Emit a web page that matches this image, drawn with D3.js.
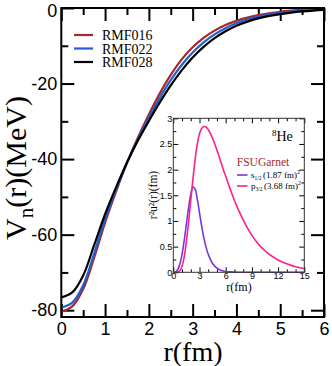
<!DOCTYPE html>
<html>
<head>
<meta charset="utf-8">
<script src="https://cdn.jsdelivr.net/npm/d3@7"></script>
<style>
  body { margin: 0; background: #fff; }
  svg { display: block; }
  .tick text { fill: #000; }
</style>
</head>
<body>
<svg id="chart" width="332" height="366"></svg>
<script>
// main panel: neutron potential V_n(r)
const rGrid = [0, 0.25, 0.5, 0.75, 1, 1.25, 1.5, 1.75, 2, 2.25, 2.5, 2.75, 3,
  3.25, 3.5, 3.75, 4, 4.25, 4.5, 4.75, 5, 5.25, 5.5, 5.75, 6];
const vRMF016 = [-80.4, -79.0, -74.4, -66.1, -56.8, -48.6, -41.0, -34.3, -28.2, -22.6, -17.7, -13.6, -10.4,
  -7.9, -6.0, -4.5, -3.4, -2.55, -1.9, -1.4, -1.0, -0.72, -0.5, -0.35, -0.24];
const vRMF022 = [-79.3, -78.0, -73.4, -65.0, -55.9, -48.1, -41.0, -34.8, -29.1, -23.8, -19.1, -15.1, -11.8,
  -9.1, -7.0, -5.35, -4.05, -3.05, -2.3, -1.7, -1.25, -0.92, -0.67, -0.48, -0.35];
const vRMF028 = [-76.6, -75.3, -70.8, -62.8, -54.6, -47.5, -40.9, -35.1, -29.9, -25.0, -20.5, -16.5, -13.1,
  -10.3, -8.0, -6.15, -4.7, -3.6, -2.75, -2.1, -1.6, -1.2, -0.9, -0.67, -0.5];
const mainNames = ['RMF016', 'RMF022', 'RMF028'];
const mainColors = ['#a3292b', '#1f5fd0', '#000000'];

// inset: r^2 u^2(r) for 8He, FSUGarnet
const rInset = [0, 0.25, 0.5, 0.75, 1, 1.25, 1.5, 1.75, 2, 2.25, 2.5, 2.75, 3,
  3.25, 3.5, 3.75, 4, 4.25, 4.5, 4.75, 5, 5.25, 5.5, 5.75, 6,
  6.5, 7, 7.5, 8, 8.5, 9, 9.5, 10, 10.5, 11, 11.5, 12, 12.5, 13, 13.5, 14, 14.5, 15];
const s12 = [0, 0.005, 0.05, 0.16, 0.35, 0.62, 0.94, 1.26, 1.52, 1.66, 1.62, 1.42, 1.16,
  0.9, 0.67, 0.49, 0.35, 0.25, 0.17, 0.12, 0.08, 0.055, 0.037, 0.025, 0.017,
  0.008, 0.004, 0.002, 0.001, 0, 0, 0, 0, 0, 0, 0, 0, 0, 0, 0, 0, 0, 0];
const p32 = [0, 0, 0.005, 0.03, 0.12, 0.3, 0.6, 0.98, 1.4, 1.82, 2.2, 2.5, 2.7,
  2.8, 2.84, 2.83, 2.78, 2.7, 2.61, 2.5, 2.38, 2.25, 2.12, 1.99, 1.87,
  1.63, 1.4, 1.2, 1.02, 0.86, 0.72, 0.6, 0.5, 0.42, 0.35, 0.29, 0.24, 0.2, 0.165, 0.135, 0.11, 0.09, 0.075];
const insetColors = ['#7b35d8', '#ff1f8e'];

const mainXTicks = [0, 1, 2, 3, 4, 5, 6];
const mainXMinor = [0.5, 1.5, 2.5, 3.5, 4.5, 5.5];
const mainYTicks = [0, -20, -40, -60, -80];
const mainYMinor = [-10, -30, -50, -70];
const insetXTicks = [0, 3, 6, 9, 12, 15];
const insetXMinor = [1, 2, 4, 5, 7, 8, 10, 11, 13, 14];
const insetYTicks = [0, 0.5, 1, 1.5, 2, 2.5, 3];
const insetYMinor = [0.25, 0.75, 1.25, 1.75, 2.25, 2.75];

const sans = "'Liberation Sans', Arial, sans-serif";
const serif = "'Liberation Serif', 'Times New Roman', serif";
const plain = d => String(d);

const svg = d3.select('#chart');

const x = d3.scaleLinear().domain([0, 6]).range([61.3, 324]);
const y = d3.scaleLinear().domain([-81.8, 0]).range([317, 8]);

// draw an axis with no domain line, ticks pointing inward
function axis(g, ax, width) {
  g.call(ax);
  g.select('.domain').remove();
  g.selectAll('.tick line').attr('stroke', '#000').attr('stroke-width', width);
  return g;
}

const main = svg.append('g');
const [x0, x1] = x.range();
const [yB, yT] = y.range();

axis(main.append('g').attr('transform', `translate(0,${yB})`),
  d3.axisBottom(x).tickValues(mainXTicks).tickSize(-13).tickPadding(5).tickFormat(plain), 2);
axis(main.append('g').attr('transform', `translate(0,${yB})`),
  d3.axisBottom(x).tickValues(mainXMinor).tickSize(-7).tickFormat(''), 2);
axis(main.append('g').attr('transform', `translate(0,${yT})`),
  d3.axisTop(x).tickValues(mainXTicks).tickSize(-13).tickFormat(''), 2);
axis(main.append('g').attr('transform', `translate(0,${yT})`),
  d3.axisTop(x).tickValues(mainXMinor).tickSize(-7).tickFormat(''), 2);
const leftAxis = axis(main.append('g').attr('transform', `translate(${x0},0)`),
  d3.axisLeft(y).tickValues(mainYTicks).tickSize(-13).tickPadding(4).tickFormat(plain), 2);
axis(main.append('g').attr('transform', `translate(${x0},0)`),
  d3.axisLeft(y).tickValues(mainYMinor).tickSize(-7).tickFormat(''), 2);
axis(main.append('g').attr('transform', `translate(${x1},0)`),
  d3.axisRight(y).tickValues(mainYTicks).tickSize(-13).tickFormat(''), 2);
axis(main.append('g').attr('transform', `translate(${x1},0)`),
  d3.axisRight(y).tickValues(mainYMinor).tickSize(-7).tickFormat(''), 2);

main.selectAll('.tick text')
  .attr('font-family', sans)
  .attr('font-size', 18);
// the top "0" sits a little below its tick, as in the original
leftAxis.selectAll('.tick text').filter(d => d === 0)
  .attr('dy', '0.45em');

// curves
const mainSeries = [vRMF016, vRMF022, vRMF028];
const lineMain = d3.line()
  .x((d, i) => x(rGrid[i]))
  .y(d => y(d))
  .curve(d3.curveCatmullRom);

main.selectAll('path.pot')
  .data(mainSeries)
  .enter().append('path')
  .attr('class', 'pot')
  .attr('fill', 'none')
  .attr('stroke', (d, i) => mainColors[i])
  .attr('stroke-width', 2.2)
  .attr('d', lineMain);

main.append('rect')
  .attr('x', x0).attr('y', yT)
  .attr('width', x1 - x0).attr('height', yB - yT)
  .attr('fill', 'none').attr('stroke', '#000').attr('stroke-width', 2);

// legend
const leg = main.append('g');
mainNames.forEach((name, i) => {
  const ly = 35 + i * 13.5;
  leg.append('line')
    .attr('x1', 74).attr('x2', 93).attr('y1', ly).attr('y2', ly)
    .attr('stroke', mainColors[i]).attr('stroke-width', 2.2);
  leg.append('text')
    .attr('x', 102).attr('y', ly + 5)
    .attr('font-family', serif).attr('font-size', 14)
    .text(name);
});

// axis titles
svg.append('text')
  .attr('x', 193).attr('y', 361)
  .attr('text-anchor', 'middle')
  .attr('font-family', serif).attr('font-size', 28)
  .text('r(fm)');

const yt = svg.append('text')
  .attr('transform', 'translate(26,168) rotate(-90)')
  .attr('text-anchor', 'middle')
  .attr('font-family', serif).attr('font-size', 30);
yt.append('tspan').text('V');
yt.append('tspan').attr('font-size', 21).attr('dy', 7).text('n');
yt.append('tspan').attr('dy', -7).text('(r)(MeV)');

// inset
const xi = d3.scaleLinear().domain([0, 15]).range([173.3, 304.3]);
const yi = d3.scaleLinear().domain([0, 3]).range([272.3, 118.3]);
const [xi0, xi1] = xi.range();
const [yiB, yiT] = yi.range();
const inset = svg.append('g');

inset.append('rect')
  .attr('x', xi0).attr('y', yiT)
  .attr('width', xi1 - xi0).attr('height', yiB - yiT)
  .attr('fill', '#fff');

axis(inset.append('g').attr('transform', `translate(0,${yiB})`),
  d3.axisBottom(xi).tickValues(insetXTicks).tickSize(-5).tickPadding(0.5).tickFormat(plain), 1);
axis(inset.append('g').attr('transform', `translate(0,${yiB})`),
  d3.axisBottom(xi).tickValues(insetXMinor).tickSize(-3).tickFormat(''), 1);
axis(inset.append('g').attr('transform', `translate(0,${yiT})`),
  d3.axisTop(xi).tickValues(insetXTicks).tickSize(-5).tickFormat(''), 1);
axis(inset.append('g').attr('transform', `translate(0,${yiT})`),
  d3.axisTop(xi).tickValues(insetXMinor).tickSize(-3).tickFormat(''), 1);
axis(inset.append('g').attr('transform', `translate(${xi0},0)`),
  d3.axisLeft(yi).tickValues(insetYTicks).tickSize(-5).tickPadding(1).tickFormat(plain), 1);
axis(inset.append('g').attr('transform', `translate(${xi0},0)`),
  d3.axisLeft(yi).tickValues(insetYMinor).tickSize(-3).tickFormat(''), 1);
axis(inset.append('g').attr('transform', `translate(${xi1},0)`),
  d3.axisRight(yi).tickValues(insetYTicks).tickSize(-5).tickFormat(''), 1);
axis(inset.append('g').attr('transform', `translate(${xi1},0)`),
  d3.axisRight(yi).tickValues(insetYMinor).tickSize(-3).tickFormat(''), 1);

inset.selectAll('.tick text')
  .attr('font-family', sans)
  .attr('font-size', 9)
  .attr('fill', '#222');

const lineInset = d3.line()
  .x((d, i) => xi(rInset[i]))
  .y(d => yi(d))
  .curve(d3.curveCatmullRom);

inset.selectAll('path.wf')
  .data([s12, p32])
  .enter().append('path')
  .attr('class', 'wf')
  .attr('fill', 'none')
  .attr('stroke', (d, i) => insetColors[i])
  .attr('stroke-width', 1.6)
  .attr('d', lineInset);

inset.append('rect')
  .attr('x', xi0).attr('y', yiT)
  .attr('width', xi1 - xi0).attr('height', yiB - yiT)
  .attr('fill', 'none').attr('stroke', '#333').attr('stroke-width', 1);

// inset texts
const he = inset.append('text')
  .attr('x', 272).attr('y', 141)
  .attr('font-family', serif).attr('font-size', 14);
he.append('tspan').attr('font-size', 9).attr('dy', -5).text('8');
he.append('tspan').attr('dy', 5).text('He');

inset.append('text')
  .attr('x', 263).attr('y', 166)
  .attr('text-anchor', 'middle')
  .attr('font-family', serif).attr('font-size', 11.5)
  .attr('fill', '#a3292b')
  .text('FSUGarnet');

const insetLeg = [
  { orb: 's', sub: '1/2', rms: '(1.87 fm)' },
  { orb: 'p', sub: '3/2', rms: '(3.68 fm)' }
];
insetLeg.forEach((d, i) => {
  const ly = 175 + i * 11;
  inset.append('line')
    .attr('x1', 237).attr('x2', 247.5).attr('y1', ly).attr('y2', ly)
    .attr('stroke', insetColors[i]).attr('stroke-width', 1.6);
  const t = inset.append('text')
    .attr('x', 251).attr('y', ly + 3)
    .attr('font-family', serif).attr('font-size', 9);
  t.append('tspan').text(d.orb);
  t.append('tspan').attr('font-size', 5.5).attr('dy', 2).text(d.sub);
  t.append('tspan').attr('dy', -2).attr('dx', 1.5).text(d.rms);
  t.append('tspan').attr('font-size', 6).attr('dy', -4).text('2');
});

inset.append('text')
  .attr('x', 239).attr('y', 291)
  .attr('text-anchor', 'middle')
  .attr('font-family', serif).attr('font-size', 12)
  .text('r(fm)');

inset.append('text')
  .attr('transform', 'translate(157,195) rotate(-90)')
  .attr('text-anchor', 'middle')
  .attr('font-family', serif).attr('font-size', 11.5)
  .text('r²u²(r)(fm)');
</script>
</body>
</html>
